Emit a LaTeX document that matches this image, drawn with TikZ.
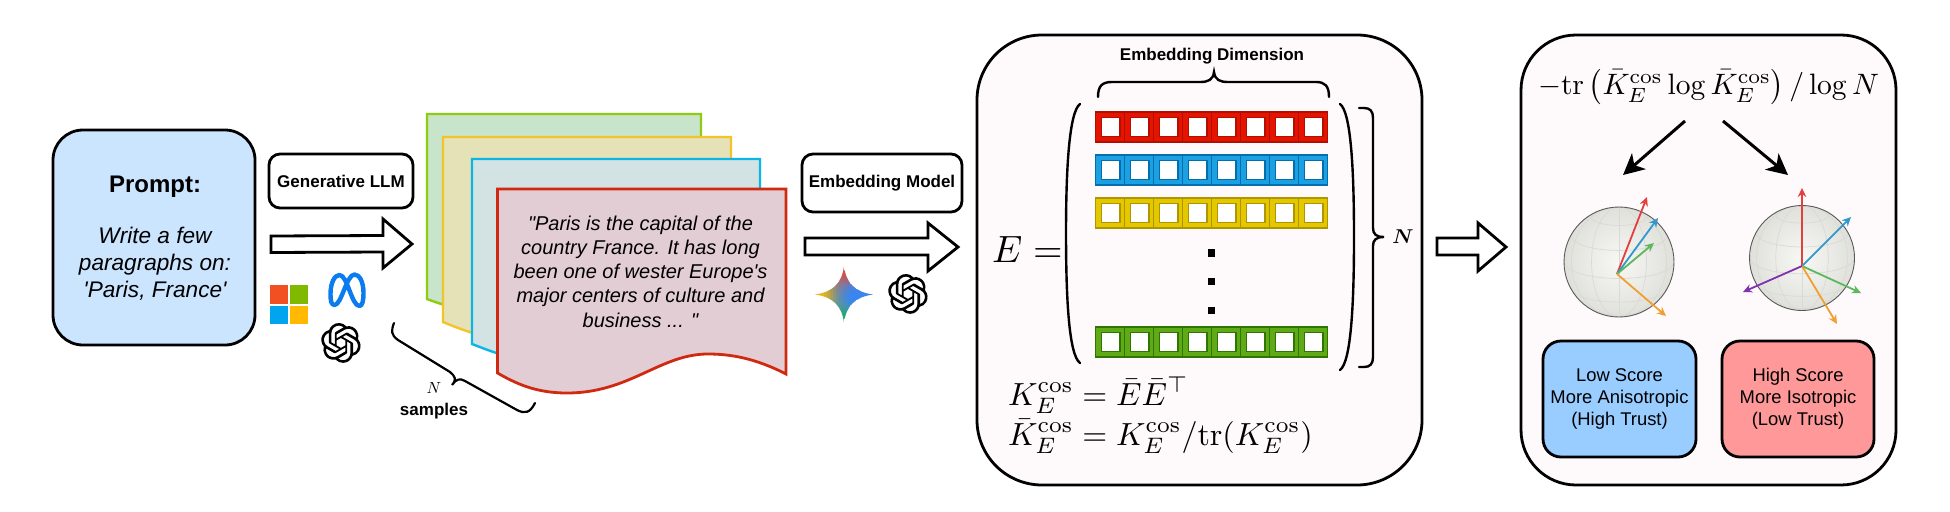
\documentclass[tikz,border=0pt]{standalone}
\usepackage{amsmath}
\usepackage[no-math]{fontspec}
\newfontfamily\arial{Liberation Sans}
\usetikzlibrary{arrows.meta,svg.path}
\definecolor{panelbg}{HTML}{FEF9FB}
\definecolor{promptblue}{HTML}{CCE5FF}
\definecolor{c1}{HTML}{E51400}\definecolor{c1d}{HTML}{B20F00}
\definecolor{c2}{HTML}{1BA1E2}\definecolor{c2d}{HTML}{006EAF}
\definecolor{c3}{HTML}{E3C800}\definecolor{c3d}{HTML}{B09500}
\definecolor{c4}{HTML}{60A917}\definecolor{c4d}{HTML}{2D7600}
\definecolor{vred}{HTML}{E53E3E}
\definecolor{vblue}{HTML}{3399CC}
\definecolor{vgreen}{HTML}{5CB85C}
\definecolor{vorange}{HTML}{F0A030}
\definecolor{vpurple}{HTML}{8030B0}
\definecolor{ballin}{HTML}{F7F7F4}
\definecolor{ballout}{HTML}{E0E0DB}
\definecolor{gridcol}{HTML}{D9D9D5}
\newcommand{\cellrow}[3]{%
  \foreach \i in {0,...,7}{%
    \fill[#2,draw=#3,line width=1pt] ({1095.5+29*\i},#1) rectangle ++(29,30);
    \draw[#3,line width=1.6pt,fill=white] ({1095.5+29*\i+6},{#1+5.5}) rectangle ++(18.5,19);
  }%
  \draw[#3,line width=1.2pt] (1095.5,#1) rectangle ++(232,30);
}
\newcommand{\spheregrid}{%
  \foreach \p in {-60,-30,0,30,60}{%
    \draw[gridline] ({cos(\p)},{sin(\p)*0.94}) arc[start angle=0,end angle=180,x radius={cos(\p)},y radius={0.3*cos(\p)}];
  }%
  \foreach \t in {0,30,60}{%
    \draw[gridline] (0,0) ellipse[x radius={sin(\t)},y radius=1];
  }%
}
\newcommand{\openailogo}[2]{%
\fill[black,even odd rule,shift={(#1,#2)},scale=1.66,yscale=-1,xshift=-12bp,yshift=-12bp] svg {M 22.2819 9.8211
a 5.9847 5.9847 0 0 0 -0.5157 -4.9108
a 6.0462 6.0462 0 0 0 -6.5098 -2.9
A 6.0651 6.0651 0 0 0 4.9807 4.1818
a 5.9847 5.9847 0 0 0 -3.9977 2.9
a 6.0462 6.0462 0 0 0 0.7427 7.0966
a 5.98 5.98 0 0 0 0.511 4.9107
a 6.051 6.051 0 0 0 6.5146 2.9001
A 5.9847 5.9847 0 0 0 13.2599 24
a 6.0557 6.0557 0 0 0 5.7718 -4.2058
a 5.9894 5.9894 0 0 0 3.9977 -2.9001
a 6.0557 6.0557 0 0 0 -0.7475 -7.0729
z
M 13.2599 22.4292
a 4.4755 4.4755 0 0 1 -2.8764 -1.0408
l 0.1419 -0.0804
l 4.7783 -2.7582
a 0.7948 0.7948 0 0 0 0.3927 -0.6813
v -6.7369
l 2.02 1.1686
a 0.071 0.071 0 0 1 0.038 0.052
v 5.5826
a 4.504 4.504 0 0 1 -4.4945 4.4944
z
M 3.5992 18.3038
a 4.4708 4.4708 0 0 1 -0.5346 -3.0137
l 0.142 0.0852
l 4.783 2.7582
a 0.7712 0.7712 0 0 0 0.7806 0
l 5.8428 -3.3685
v 2.3324
a 0.0804 0.0804 0 0 1 -0.0332 0.0615
L 9.74 19.9502
a 4.4992 4.4992 0 0 1 -6.1408 -1.6464
z
M 2.3408 7.8956
a 4.485 4.485 0 0 1 2.3655 -1.9728
V 11.6
a 0.7664 0.7664 0 0 0 0.3879 0.6765
l 5.8144 3.3543
l -2.0201 1.1685
a 0.0757 0.0757 0 0 1 -0.071 0
l -4.8303 -2.7865
A 4.504 4.504 0 0 1 2.3408 7.872
z
M 18.9371 11.7514
L 13.1038 8.364
L 15.1192 7.2
a 0.0757 0.0757 0 0 1 0.071 0
l 4.8303 2.7913
a 4.4944 4.4944 0 0 1 -0.6765 8.1042
v -5.6772
a 0.79 0.79 0 0 0 -0.407 -0.667
z
M 20.9478 8.7283
l -0.142 -0.0852
l -4.7735 -2.7818
a 0.7759 0.7759 0 0 0 -0.7854 0
L 9.409 9.2297
V 6.8974
a 0.0662 0.0662 0 0 1 0.0284 -0.0615
l 4.8303 -2.7866
a 4.4992 4.4992 0 0 1 6.6802 4.66
z
M 8.3065 12.863
l -2.02 -1.1638
a 0.0804 0.0804 0 0 1 -0.038 -0.0567
V 6.0742
a 4.4992 4.4992 0 0 1 7.3757 -3.4537
l -0.142 0.0805
L 8.704 5.459
a 0.7948 0.7948 0 0 0 -0.3927 0.6813
z
M 9.4041 10.4976
l 2.602 -1.4998
l 2.6069 1.4998
v 2.9994
l -2.5974 1.4997
l -2.6067 -1.4997
Z};%
}
\tikzset{
  x=1pt,y=-1pt,
  lbl/.style={font=\arial,align=center,inner sep=0pt},
  rbox/.style={draw=black,rectangle,line width=2.8pt,align=center,inner sep=0pt,font=\arial},
  blockarrow/.style={draw=black,fill=white,line width=2.8pt,line join=miter},
  panel/.style={draw=black,fill=panelbg,rectangle,line width=2.8pt,inner sep=0pt},
  docsheet/.style={line width=2.4pt,line join=miter},
  curly/.style={draw=black,line width=2.4pt,line cap=round},
  gridline/.style={draw=gridcol,line width=0.7pt},
  vec/.style={line width=1.8pt,-{Stealth[length=9pt,width=8.5pt]}},
  bigarrow/.style={line width=3pt,-{Stealth[length=21pt,width=21pt,inset=6pt]}}
}
\begin{document}
\begin{tikzpicture}
\useasboundingbox[fill=white] (0,0) rectangle (1950,511);

% prompt
\node[rbox,fill=promptblue,rounded corners=30pt,minimum width=202pt,minimum height=215pt] (prompt) at (154,237.5) {};
\node[lbl,font=\arial\itshape\fontsize{22.6}{27}\selectfont] (prompttext) at (155,238.5) {\upshape\bfseries\fontsize{24}{27}\selectfont Prompt:\\[24pt]
  Write a few\\paragraphs on:\\'Paris, France'};

% generative
\node[rbox,rounded corners=11pt,minimum width=144pt,minimum height=54pt,fill=white,font=\arial\bfseries\fontsize{17}{20}\selectfont] (gen) at (341,181) {Generative LLM};
\draw[blockarrow] (271,236) -- (383,235.5) -- (383,219) -- (412,244) -- (383,268) -- (383,252) -- (271,252.5) -- cycle;

% microsoft
\fill[fill={rgb,255:red,242;green,80;blue,34}] (269.5,285) rectangle (288,303.5);
\fill[fill={rgb,255:red,127;green,186;blue,0}] (290,285) rectangle (308,303.5);
\fill[fill={rgb,255:red,0;green,164;blue,239}] (269.5,305.5) rectangle (288,324);
\fill[fill={rgb,255:red,255;green,185;blue,0}] (290,305.5) rectangle (308,324);
% meta
\draw[draw={rgb,255:red,11;green,124;blue,240},line width=4.4pt,line join=round,shift={(329.5,273)}]
  (5,32) .. controls (1.5,32) and (1,27) .. (1,21) .. controls (1,10) and (5,2) .. (10,2)
  .. controls (18,2) and (22,33) .. (30,33) .. controls (33,33) and (34,27) .. (34,20)
  .. controls (34,9) and (30,1.5) .. (25,1.5) .. controls (17,1.5) and (12,32) .. (5,32) -- cycle;
\openailogo{341}{343}

% sheets
\draw[docsheet,draw={rgb,255:red,143;green,204;blue,16},fill={rgb,255:red,200;green,228;blue,203}]
  (427,114) -- (701,114) -- (701,200) -- (480,315) .. controls (460,310) and (440,304) .. (427,299) -- cycle;
\draw[docsheet,draw={rgb,255:red,242;green,196;blue,42},fill={rgb,255:red,229;green,226;blue,184}]
  (443,137) -- (731,137) -- (731,200) -- (500,340) .. controls (475,335) and (455,327) .. (443,322) -- cycle;
\draw[docsheet,draw={rgb,255:red,12;green,182;blue,228},fill={rgb,255:red,211;green,226;blue,227}]
  (472,159) -- (760,159) -- (760,220) -- (520,360) .. controls (500,355) and (485,349) .. (472,344) -- cycle;
\draw[docsheet,line width=2.8pt,draw={rgb,255:red,207;green,42;blue,16},fill={rgb,255:red,227;green,205;blue,213}]
  (497.5,189) -- (786,189) -- (786,374) .. controls (755,358) and (730,354) .. (708,354)
  .. controls (660,354) and (630,393) .. (567,393) .. controls (535,393) and (515,383) .. (497.5,373) -- cycle;
\node[lbl,font=\arial\itshape\fontsize{20}{24.3}\selectfont] (doctext) at (640.5,271.5) {"Paris is the capital of the\\country France. It has long\\been one of wester Europe's\\major centers of culture and\\business ... "};

% diagonal brace
\draw[curly,line width=2.2pt] (394,323) .. controls (391,331) and (391,335) .. (398,340) -- (450,372)
  .. controls (455,376) and (457,380) .. (452,385) .. controls (456,379) and (460,378) .. (465,381)
  -- (517,410) .. controls (525,414) and (530,413) .. (535,403);
\node[inner sep=0pt] (nlabel) at (434,388) {\scalebox{1.6}{$N$}};
\node[lbl,font=\arial\bfseries\fontsize{17}{20}\selectfont] (samples) at (434,411) {samples};

% embedding model
\node[rbox,rounded corners=11pt,minimum width=160pt,minimum height=58pt,fill=white,font=\arial\bfseries\fontsize{17}{20}\selectfont] (embm) at (882,183) {Embedding Model};
\draw[blockarrow] (805,238) -- (928,238) -- (928,223) -- (958,247) -- (928,271) -- (928,255) -- (805,255) -- cycle;

% gemini
\begin{scope}
  \clip (844,266) .. controls (846,283) and (855,292) .. (873,294.5) .. controls (855,297) and (846,306) .. (844,323)
    .. controls (842,306) and (833,297) .. (815,294.5) .. controls (833,292) and (842,283) .. (844,266) -- cycle;
  \foreach \i in {0,...,19}{
    \foreach \j in {0,...,19}{
      \pgfmathsetmacro{\ux}{(\i-9.5)/9.5}
      \pgfmathsetmacro{\uy}{(\j-9.5)/9.5}
      \pgfmathsetmacro{\wr}{1/(0.04+(\ux)^2+(\uy+0.85)^2)}
      \pgfmathsetmacro{\wy}{1/(0.04+(\ux+0.85)^2+(\uy)^2)}
      \pgfmathsetmacro{\wg}{1/(0.04+(\ux)^2+(\uy-0.85)^2)}
      \pgfmathsetmacro{\wb}{2.2/(0.04+(\ux-0.35)^2+(\uy)^2)}
      \pgfmathsetmacro{\wt}{\wr+\wy+\wg+\wb}
      \pgfmathsetmacro{\cr}{(\wr*0.92+\wy*0.98+\wg*0.05+\wb*0.2)/\wt}
      \pgfmathsetmacro{\cg}{(\wr*0.26+\wy*0.74+\wg*0.70+\wb*0.52)/\wt}
      \pgfmathsetmacro{\cb}{(\wr*0.21+\wy*0.02+\wg*0.35+\wb*1.0)/\wt}
      \definecolor{gemcell}{rgb}{\cr,\cg,\cb}
      \fill[gemcell] ({814.5+3*\i},{265.5+3*\j}) rectangle ++(3.4,3.4);
    }
  }
\end{scope}
\openailogo{908}{294}

% embedding panel
\node[panel,rounded corners=65pt,minimum width=445pt,minimum height=450pt] (empanel) at (1199.5,260) {};
\node[lbl,font=\arial\bfseries\fontsize{17}{20}\selectfont] (dimlabel) at (1212,56) {Embedding Dimension};
\draw[curly] (1098,97) .. controls (1098,86) and (1102,82) .. (1112,82) -- (1200,82)
  .. controls (1208,82) and (1213,80) .. (1214,72) .. controls (1215,80) and (1220,82) .. (1228,82)
  -- (1316,82) .. controls (1325,82) and (1329,86) .. (1329,97);
\draw[curly] (1080,104) .. controls (1069,112) and (1066,170) .. (1066,233) .. controls (1066,300) and (1069,355) .. (1080,363);
\draw[curly] (1340,104) .. controls (1351,112) and (1354,170) .. (1354,237) .. controls (1354,305) and (1351,362) .. (1340,370);
\draw[curly] (1359,108) -- (1364,108) .. controls (1370,108) and (1373,111) .. (1373,118) -- (1373,228)
  .. controls (1373,234) and (1376,237) .. (1384,237) .. controls (1376,237) and (1373,240) .. (1373,246)
  -- (1373,357) .. controls (1373,364) and (1370,367) .. (1364,367) -- (1359,367);
\node[inner sep=0pt] (nbold) at (1403,237) {\scalebox{2}{\boldmath$N$}};
\node[inner sep=0pt,anchor=base west] (elabel) at (992,262) {\scalebox{3.8}{$E=$}};
\cellrow{112}{c1}{c1d}
\cellrow{155}{c2}{c2d}
\cellrow{198}{c3}{c3d}
\cellrow{327}{c4}{c4d}
\foreach \y in {252.5,281,310}{\fill[black] (1207.5,\y-3.5) rectangle ++(7.5,7.5);}
\node[inner sep=0pt,anchor=base west] (eqs) at (1008,425) {\scalebox{3.2}{$\begin{aligned}K_E^{\cos}&=\bar{E}\bar{E}^{\top}\\[-2.5pt]\bar{K}_E^{\cos}&=K_E^{\cos}/\mathrm{tr}(K_E^{\cos})\end{aligned}$}};

% middle arrow
\draw[blockarrow] (1437,238) -- (1478,238) -- (1478,223) -- (1506,247) -- (1478,271) -- (1478,255) -- (1437,255) -- cycle;

% right panel
\node[panel,rounded corners=55pt,minimum width=375pt,minimum height=450pt] (trpanel) at (1708.5,260) {};
\node[inner sep=0pt,anchor=base] (formula) at (1708.5,94) {\scalebox{2.95}{${-}\mathrm{tr}\left(\bar{K}_E^{\cos}\log\bar{K}_E^{\cos}\right)/\log N$}};
\coordinate (lfrom) at (1685,121);
\coordinate (lto) at (1623,175);
\coordinate (rfrom) at (1723,121);
\coordinate (rto) at (1788,175);
\draw[bigarrow] (lfrom) -- (lto);
\draw[bigarrow] (rfrom) -- (rto);

% spheres
\begin{scope}[shift={(1619,262)},x=55pt,y=-55pt]
  \shade[inner color=ballin,outer color=ballout] (0,0) circle (1);
  \clip (0,0) circle (1);
  \spheregrid
\end{scope}
\draw[black!65,line width=0.9pt] (1619,262) circle (55);
\coordinate (oa) at (1617,274);
\draw[vec,vred] (oa) -- (1647,197);
\draw[vec,vblue] (oa) -- (1658,218);
\draw[vec,vgreen] (oa) -- (1654,243);
\draw[vec,vorange] (oa) -- (1666,316);

\begin{scope}[shift={(1802,258)},x=52.5pt,y=-52.5pt]
  \shade[inner color=ballin,outer color=ballout] (0,0) circle (1);
  \clip (0,0) circle (1);
  \spheregrid
\end{scope}
\draw[black!65,line width=0.9pt] (1802,258) circle (52.5);
\coordinate (ob) at (1802,266);
\draw[vec,vred] (ob) -- (1802,188);
\draw[vec,vblue] (ob) -- (1851,217);
\draw[vec,vgreen] (ob) -- (1861,293);
\draw[vec,vorange] (ob) -- (1837,324);
\draw[vec,vpurple] (ob) -- (1743,292);

% result boxes
\node[rbox,fill={rgb,255:red,153;green,204;blue,255},rounded corners=18pt,minimum width=153pt,minimum height=116pt,font=\arial\fontsize{18.4}{22}\selectfont] (lowbox) at (1619.5,399) {Low Score\\More Anisotropic\\(High Trust)};
\node[rbox,fill={rgb,255:red,255;green,153;blue,153},rounded corners=18pt,minimum width=152pt,minimum height=116pt,font=\arial\fontsize{18.4}{22}\selectfont] (highbox) at (1798,399) {High Score\\More Isotropic\\(Low Trust)};
\end{tikzpicture}
\end{document}
